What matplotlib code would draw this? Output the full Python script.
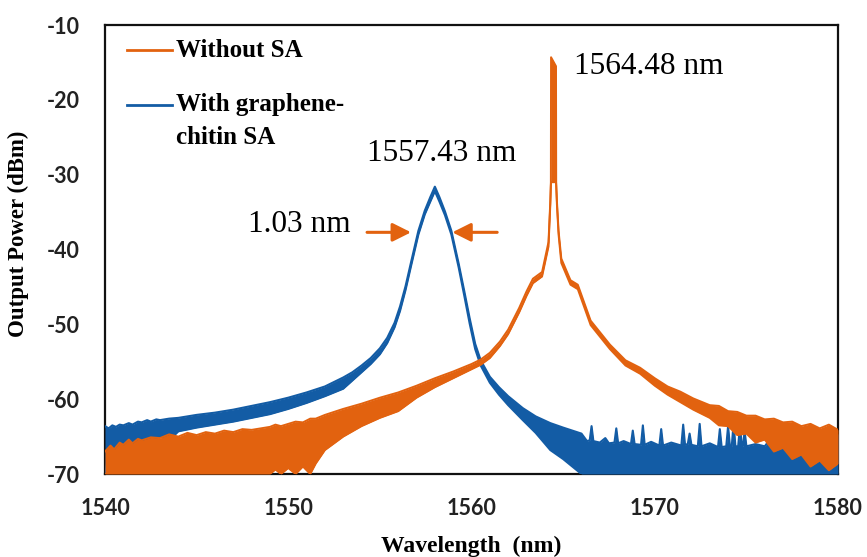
import numpy as np
import matplotlib.pyplot as plt

plt.rcParams['axes.unicode_minus'] = False

# spectra: wavelength (nm), upper and lower edge of the noisy trace (dBm)
wl_blue = [1540.0, 1540.2, 1540.4, 1540.6, 1540.8, 1541.0, 1541.3, 1541.5, 1541.8, 1542.0,
           1542.3, 1542.5, 1542.8, 1543.0, 1543.5, 1544.0,
           1545.0, 1546.0, 1547.0, 1548.0, 1549.0, 1550.0, 1551.0, 1552.0, 1553.0, 1553.5,
           1554.0, 1554.5, 1555.0, 1555.4, 1555.8, 1556.1, 1556.4, 1556.7, 1557.1, 1557.45,
           1557.75, 1558.0, 1558.25, 1558.55, 1558.9, 1559.3, 1559.6, 1559.9, 1560.2, 1560.5,
           1561.0, 1561.5, 1562.0, 1562.8, 1563.5, 1564.3, 1565.0, 1565.5, 1566.0,
           1566.3, 1566.45, 1566.55, 1566.65, 1567.0, 1567.3, 1567.5, 1567.8, 1567.9, 1568.0,
           1568.3, 1568.7, 1568.8, 1568.9, 1569.25, 1569.35, 1569.45, 1569.8, 1570.25, 1570.35,
           1570.45, 1570.9, 1571.45, 1571.55, 1571.65, 1571.8, 1571.9, 1572.0, 1572.35, 1572.45,
           1572.55, 1573.0, 1573.45, 1573.55, 1573.65, 1573.9, 1574.0, 1574.1, 1574.2, 1574.3,
           1574.4, 1574.55, 1574.65, 1574.75, 1574.82, 1574.9, 1575.0, 1575.5, 1576.0, 1576.4,
           1576.5, 1577.0, 1577.5, 1577.6, 1578.2, 1578.7, 1579.2, 1579.8, 1580.0]
hi_blue = [-63.6, -63.9, -63.5, -63.7, -63.4, -63.5, -63.2, -63.4, -63.0, -63.1,
           -62.8, -63.0, -62.7, -62.8, -62.6, -62.5,
           -62.1, -61.8, -61.4, -60.9, -60.4, -59.8, -59.1, -58.3, -57.1, -56.4,
           -55.5, -54.5, -53.2, -51.8, -49.8, -47.6, -44.9, -41.7, -37.5, -34.8,
           -33.0, -31.6, -33.0, -34.9, -37.5, -41.9, -45.5, -49.2, -52.6, -54.8,
           -57.0, -58.4, -59.6, -61.2, -62.3, -63.2, -63.8, -64.2, -64.6,
           -65.6, -65.5, -63.6, -65.6, -65.8, -65.2, -65.9, -65.8, -63.9, -65.9,
           -65.6, -66.0, -64.2, -66.0, -66.1, -63.5, -66.1, -65.7, -66.2, -64.0,
           -66.2, -65.8, -66.2, -63.4, -66.1, -66.0, -64.6, -66.1, -66.3, -63.3,
           -66.3, -65.9, -66.4, -64.0, -66.4, -66.3, -63.6, -66.3, -66.3, -63.2,
           -66.3, -66.3, -63.5, -66.3, -66.2, -64.2, -66.3, -66.0, -66.3, -65.0,
           -66.4, -66.2, -65.4, -66.4, -66.0, -66.5, -65.8, -66.4, -64.5]
lo_blue = [-70.0, -67.5, -70.0, -68.0, -70.0, -67.5, -69.0, -68.5, -66.5, -66.0,
           -67.5, -67.0, -65.2, -65.0, -65.5, -64.3,
           -63.8, -63.4, -63.0, -62.5, -62.0, -61.3, -60.5, -59.6, -58.6, -57.5,
           -56.4, -55.3, -54.0, -52.5, -50.4, -48.2, -45.4, -42.2, -38.0, -35.3,
           -33.6, -32.2, -33.6, -35.4, -38.0, -42.4, -46.1, -49.9, -53.3, -55.5,
           -57.8, -59.4, -60.8, -62.8, -64.5, -66.8, -68.0, -69.0, -70.0,
           -70.0, -70.0, -70.0, -70.0, -70.0, -70.0, -70.0, -70.0, -70.0, -70.0,
           -70.0, -70.0, -70.0, -70.0, -70.0, -70.0, -70.0, -70.0, -70.0, -70.0,
           -70.0, -70.0, -70.0, -70.0, -70.0, -70.0, -70.0, -70.0, -70.0, -70.0,
           -70.0, -70.0, -70.0, -70.0, -70.0, -70.0, -70.0, -70.0, -70.0, -70.0,
           -70.0, -70.0, -70.0, -70.0, -70.0, -70.0, -70.0, -70.0, -70.0, -70.0,
           -70.0, -70.0, -70.0, -70.0, -70.0, -70.0, -70.0, -70.0, -70.0]

wl_orange = [1540.0, 1540.3, 1540.5, 1540.8, 1541.0, 1541.3, 1541.5, 1541.8, 1542.0, 1542.5,
             1543.0, 1543.5, 1544.0, 1544.5, 1545.0, 1545.5, 1546.0, 1546.5, 1547.0, 1547.5,
             1548.0, 1549.0, 1549.3, 1549.6, 1550.0, 1550.4, 1550.8, 1551.2, 1551.5, 1552.0,
             1553.0, 1554.0, 1555.0, 1556.0, 1557.0,
             1558.0, 1559.0, 1560.0, 1560.5, 1561.0, 1561.55, 1562.0, 1562.6, 1563.0, 1563.35,
             1563.85, 1564.2, 1564.3, 1564.33, 1564.34, 1564.61, 1564.62, 1564.66, 1564.75, 1564.9,
             1565.4, 1565.8, 1566.5, 1567.55, 1568.4, 1569.2, 1570.0, 1570.7, 1571.4, 1572.1,
             1573.0, 1573.5, 1574.0, 1574.5, 1575.0, 1575.5, 1576.0, 1576.5, 1577.0, 1577.5,
             1578.0, 1578.5, 1579.0, 1579.5, 1580.0]
hi_orange = [-67.0, -66.2, -66.7, -65.8, -66.1, -65.4, -65.9, -65.3, -65.5, -65.1,
             -65.2, -64.7, -65.0, -64.5, -64.8, -64.4, -64.6, -64.2, -64.4, -64.0,
             -64.1, -63.7, -63.4, -63.6, -63.3, -63.0, -63.1, -62.6, -62.6, -62.1,
             -61.3, -60.6, -59.8, -59.1, -58.2,
             -57.2, -56.3, -55.3, -54.7, -53.8, -52.3, -50.7, -47.8, -45.6, -43.9,
             -43.0, -39.0, -33.5, -31.0, -14.3, -15.5, -31.0, -33.5, -37.5, -41.2,
             -44.1, -44.7, -49.5, -52.7, -54.8, -55.8, -57.2, -58.3, -59.0, -59.9,
             -60.8, -60.9, -61.6, -61.7, -62.2, -62.2, -62.7, -62.6, -63.1, -63.0,
             -63.6, -63.3, -63.9, -63.4, -64.1]
lo_orange = [-70.0, -70.0, -70.0, -70.0, -70.0, -70.0, -70.0, -70.0, -70.0, -70.0,
             -70.0, -70.0, -70.0, -70.0, -70.0, -70.0, -70.0, -70.0, -70.0, -70.0,
             -70.0, -70.0, -69.4, -70.0, -69.2, -70.0, -69.0, -70.0, -68.6, -66.8,
             -65.0, -63.6, -62.5, -61.6, -59.8,
             -58.4, -57.2, -56.0, -55.4, -54.5, -52.9, -51.3, -48.4, -46.2, -44.5,
             -43.6, -39.6, -34.0, -31.5, -31.0, -31.0, -31.5, -34.0, -38.0, -41.8,
             -44.7, -45.3, -50.1, -53.3, -55.5, -56.6, -58.2, -59.4, -60.4, -61.4,
             -62.5, -63.5, -63.6, -64.8, -64.6, -65.8, -65.4, -67.0, -66.5, -68.0,
             -67.4, -69.0, -68.2, -69.5, -68.6]

xticks = [1540, 1550, 1560, 1570, 1580]
yticks = [-10, -20, -30, -40, -50, -60, -70]

orange = '#E2620F'
blue = '#135CA5'
serif = 'Liberation Serif'

fig = plt.figure(figsize=(8.67, 5.57), dpi=100)
ax = fig.add_axes([0.1211, 0.149, 0.8455, 0.806])

ax.fill_between(wl_blue, lo_blue, hi_blue, color=blue, lw=0, zorder=3)
ax.plot(wl_blue, hi_blue, color=blue, lw=1.5, zorder=3)
ax.plot(wl_blue, lo_blue, color=blue, lw=1.5, zorder=3)
ax.fill_between(wl_orange, lo_orange, hi_orange, color=orange, lw=0, zorder=4)
ax.plot(wl_orange, hi_orange, color=orange, lw=1.4, zorder=4)
ax.plot(wl_orange, lo_orange, color=orange, lw=1.4, zorder=4)

ax.set_xlim(1540, 1580)
ax.set_ylim(-70, -10)
ax.set_xticks(xticks)
ax.set_yticks(yticks)
ax.tick_params(length=0, labelsize=15.5, pad=17)
ax.tick_params(axis='y', pad=18)
for lab in ax.get_xticklabels() + ax.get_yticklabels():
    lab.set_fontfamily('Lato')
    lab.set_fontweight('bold')
    lab.set_color('#222222')
for s in ax.spines.values():
    s.set_linewidth(1.6)
    s.set_color('#111111')

ax.set_xlabel('Wavelength  (nm)', family=serif, fontweight='bold', fontsize=17)
ax.xaxis.set_label_coords(0.5, -0.138)
ax.set_ylabel('Output Power (dBm)', family=serif, fontweight='bold', fontsize=16.5)
ax.yaxis.set_label_coords(-0.103, 0.535)

# legend drawn by hand (handle sits on first text line)
ax.plot([0.030, 0.092], [0.944, 0.944], color=orange, lw=2, transform=ax.transAxes)
ax.text(0.097, 0.944, 'Without SA', family=serif, fontweight='bold', fontsize=18,
        va='center', transform=ax.transAxes)
ax.plot([0.030, 0.092], [0.822, 0.822], color=blue, lw=2, transform=ax.transAxes)
ax.text(0.097, 0.822, 'With graphene-', family=serif, fontweight='bold', fontsize=18,
        va='center', transform=ax.transAxes)
ax.text(0.097, 0.750, 'chitin SA', family=serif, fontweight='bold', fontsize=18,
        va='center', transform=ax.transAxes)

ax.text(1558.35, -27.1, '1557.43 nm', family=serif, fontsize=22.5, ha='center', va='center')
ax.text(1565.6, -15.6, '1564.48 nm', family=serif, fontsize=22.5, ha='left', va='center')
ax.text(1550.6, -36.7, '1.03 nm', family=serif, fontsize=22.5, ha='center', va='center')
ap = dict(arrowstyle='-|>', color=orange, lw=2.2, mutation_scale=28, shrinkA=0, shrinkB=0)
ax.annotate('', xy=(1556.7, -37.7), xytext=(1554.3, -37.7), arrowprops=ap)
ax.annotate('', xy=(1558.95, -37.7), xytext=(1561.4, -37.7), arrowprops=ap)

plt.savefig('out.png', dpi=100)
